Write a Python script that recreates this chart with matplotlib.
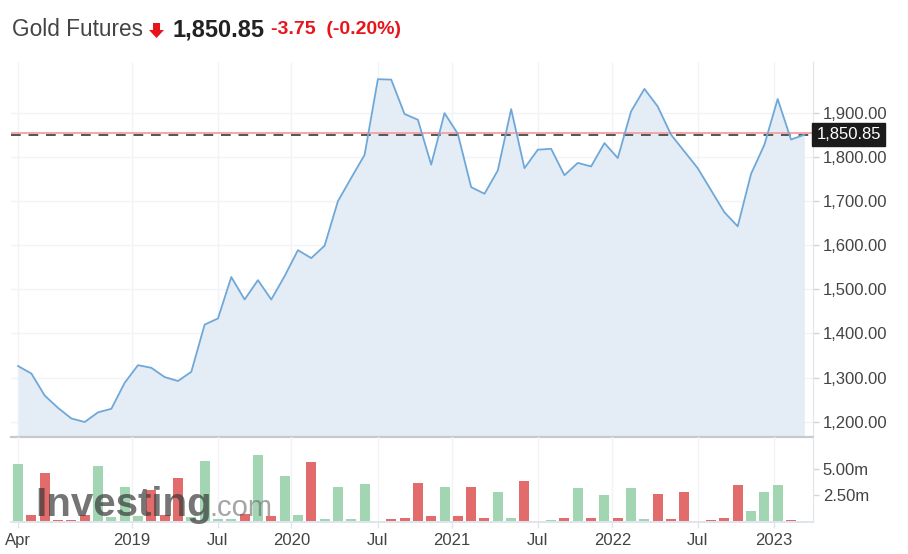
import matplotlib
matplotlib.use("Agg")
import matplotlib.pyplot as plt
import numpy as np
from matplotlib.patches import Polygon

plt.rcParams['font.family'] = ['Liberation Sans', 'DejaVu Sans']

# ---------------- data ----------------
price = [1326, 1309, 1259, 1231, 1207, 1199, 1221, 1229, 1288, 1328,
         1322, 1301, 1292, 1313, 1420, 1434, 1528, 1477, 1521, 1477,
         1530, 1589, 1571, 1599, 1700, 1753, 1805, 1977, 1976, 1898,
         1885, 1783, 1900, 1853, 1732, 1717, 1770, 1909, 1775, 1817,
         1819, 1759, 1787, 1779, 1832, 1798, 1904, 1955, 1915, 1851,
         1813, 1775, 1725, 1675, 1643, 1762, 1828, 1932, 1840, 1850.85]
volume_m = [5.48, 0.65, 4.67, 0.10, 0.15, 0.65, 5.33, 0.40, 3.30, 0.50,
            3.05, 0.62, 4.14, 0.40, 5.86, 0.20, 0.25, 0.75, 6.40, 0.50,
            4.36, 0.62, 5.73, 0.25, 3.30, 0.25, 3.58, 0.00, 0.25, 0.37,
            3.74, 0.50, 3.30, 0.50, 3.33, 0.37, 2.80, 0.37, 3.90, 0.00,
            0.12, 0.37, 3.18, 0.37, 2.52, 0.37, 3.18, 0.25, 2.65, 0.25,
            2.80, 0.00, 0.15, 0.37, 3.46, 1.03, 2.80, 3.46, 0.15, 0.00]
x_tick_labels = ['Apr', '2019', 'Jul', '2020', 'Jul', '2021', 'Jul', '2022', 'Jul', '2023']
price_ticks = [1200, 1300, 1400, 1500, 1600, 1700, 1800, 1900]
volume_ticks = [2.5, 5.0]
volume_tick_labels = ['2.50m', '5.00m']
last_price = 1850.85
prev_close = 1854.60
change = -3.75
change_pct = -0.20

# ---------------- layout ----------------
W, H = 908, 554
fig = plt.figure(figsize=(W / 100, H / 100), dpi=100)

def ax_rect(x0, y0, x1, y1):
    return [x0 / W, 1 - y1 / H, (x1 - x0) / W, (y1 - y0) / H]

ax = fig.add_axes(ax_rect(11, 62, 813, 437))
axv = fig.add_axes(ax_rect(11, 437, 813, 522), sharex=ax)

x = np.arange(len(price))
tick_pos = [0, 8.55, 15, 20.5, 27, 32.55, 39, 44.6, 51, 56.7]

line_c = '#6fa8d8'
fill_c = '#e4edf5'
grid_c = '#f1f3f6'
text_c = '#444444'
green = '#a2d6b3'
red = '#e26b6b'
tick_fs = 12

# price panel
ax.fill_between(x, price, 1100, color=fill_c, zorder=1, lw=0)
ax.plot(x, price, color=line_c, lw=1.3, zorder=3)
ax.axhline(prev_close, color='#f4a0a0', lw=1.3, zorder=2)
ax.axhline(last_price, color='#555555', lw=1.4, ls=(0, (5, 4)), zorder=2)
ax.set_ylim(1165, 2016)
ax.set_xlim(-0.53, 59.65)
ax.yaxis.tick_right()
ax.set_yticks(price_ticks)
ax.set_yticklabels([f'{v:,.2f}' for v in price_ticks])
for v in price_ticks:
    ax.axhline(v, color=grid_c, lw=1, zorder=0)
for p in tick_pos:
    ax.axvline(p, color=grid_c, lw=1, zorder=0)
    axv.axvline(p, color=grid_c, lw=1, zorder=0)
ax.tick_params(axis='y', length=4, width=1, color='#cfd6de', labelsize=tick_fs,
               labelcolor=text_c, pad=3)
ax.tick_params(axis='x', bottom=False, labelbottom=False)
for s in ['top', 'left']:
    ax.spines[s].set_visible(False)
ax.spines['right'].set_color('#dfe5ec')
ax.spines['bottom'].set_color('#c9c9c9')
ax.spines['bottom'].set_linewidth(1.6)
ax.set_facecolor('none')

# last price box
ax.annotate(f'{last_price:,.2f}', xy=(1.0, last_price), xycoords=('axes fraction', 'data'),
            xytext=(2.5, 0), textcoords='offset points', ha='left', va='center',
            fontsize=tick_fs, color='white',
            bbox=dict(boxstyle='square,pad=0.25', fc='#1b1b1b', ec='#1b1b1b'), zorder=10,
            annotation_clip=False)

# volume panel
colors = [green] + [green if price[i] >= price[i - 1] else red for i in range(1, len(price))]
axv.bar(x, volume_m, width=0.75, color=colors, zorder=2)
axv.set_ylim(-0.05, 8.12)
axv.yaxis.tick_right()
axv.set_yticks(volume_ticks)
axv.set_yticklabels(volume_tick_labels)
axv.tick_params(axis='y', length=4, width=1, color='#cfd6de', labelsize=tick_fs,
                labelcolor=text_c, pad=3)
axv.set_xticks(tick_pos)
axv.set_xticklabels(x_tick_labels)
axv.tick_params(axis='x', length=4, width=1, color='#dfe5ec', labelsize=tick_fs,
                labelcolor=text_c, pad=4)
for s in ['top', 'left']:
    axv.spines[s].set_visible(False)
axv.spines['right'].set_color('#dfe5ec')
axv.spines['bottom'].set_color('#dfe5ec')
axv.spines['bottom'].set_linewidth(1.4)
axv.set_facecolor('none')

# watermark
fig.text(35 / W, 1 - 516 / H, 'Investing', fontsize=29, fontweight='bold',
         color='#3a3a3a', alpha=0.7, ha='left', va='baseline', zorder=20)
fig.text(209 / W, 1 - 516 / H, '.com', fontsize=21, color='#6a6a6a', alpha=0.6,
         ha='left', va='baseline', zorder=20)

# title
ty = 1 - 30 / H
fig.text(12 / W, ty, 'Gold Futures', fontsize=16.3, color='#444444', ha='left', va='center')
# down arrow
ax_pts = np.array([[153, 23], [160, 23], [160, 30], [164, 30], [156.5, 38], [149, 30], [153, 30]])
fig.patches.append(Polygon(np.column_stack([ax_pts[:, 0] / W, 1 - ax_pts[:, 1] / H]),
                           closed=True, transform=fig.transFigure, fc='#e8141c', ec='none'))
fig.text(172 / W, ty, f'{last_price:,.2f}', fontsize=17, fontweight='bold',
         color='#222222', ha='left', va='center')
fig.text(271 / W, ty, f'{change:.2f}  ({change_pct:.2f}%)', fontsize=14, fontweight='bold',
         color='#e8141c', ha='left', va='center')

fig.savefig('out.png', dpi=100, facecolor='white')
